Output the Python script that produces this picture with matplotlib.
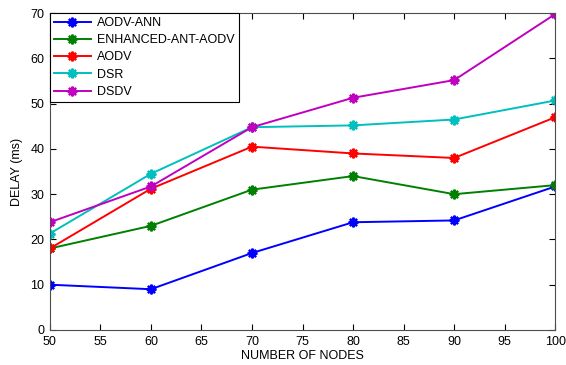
import matplotlib
matplotlib.use('Agg')
from matplotlib import pyplot as plt

plt.rcParams['font.family'] = ['Liberation Sans', 'DejaVu Sans']
plt.rcParams['font.size'] = 9

nodes = [50, 60, 70, 80, 90, 100]
aodv_ann = [10, 9, 17, 23.8, 24.2, 31.7]
enhanced_ant_aodv = [18, 23, 31, 34, 30, 32]
aodv = [18, 31.2, 40.5, 39, 38, 47]
dsr = [21.3, 34.5, 44.8, 45.2, 46.5, 50.7]
dsdv = [23.8, 31.7, 44.8, 51.3, 55.2, 69.8]

series = [
    ('AODV-ANN', aodv_ann, 'b'),
    ('ENHANCED-ANT-AODV', enhanced_ant_aodv, 'g'),
    ('AODV', aodv, 'r'),
    ('DSR', dsr, 'c'),
    ('DSDV', dsdv, 'm'),
]

fig = plt.figure(figsize=(5.66, 3.65), dpi=100)
ax = fig.add_axes([0.088, 0.096, 0.893, 0.868])
for name, vals, col in series:
    ax.plot(nodes, vals, color=col, marker=(8, 2, 0), markersize=7,
            markeredgewidth=1.6, linewidth=1.4, label=name)

ax.set_xlim(50, 100)
ax.set_ylim(0, 70)
ax.set_xticks(range(50, 101, 5))
ax.set_yticks(range(0, 71, 10))
ax.tick_params(direction='in', top=True, right=True, length=4, width=0.8, labelsize=9)
ax.tick_params(axis='x', pad=4)
ax.tick_params(axis='y', pad=4)
for s in ax.spines.values():
    s.set_color('0.3')
    s.set_linewidth(0.8)
ax.set_xlabel('NUMBER OF NODES', fontsize=9, labelpad=2)
ax.set_ylabel('DELAY (ms)', fontsize=9, labelpad=5)
leg = ax.legend(loc='upper left', fancybox=False, edgecolor='black', framealpha=1,
                borderaxespad=0, handlelength=3.0, labelspacing=0.42, fontsize=9,
                borderpad=0.3, handletextpad=0.5)
leg.get_frame().set_linewidth(0.8)
fig.savefig('out.png', dpi=100)
